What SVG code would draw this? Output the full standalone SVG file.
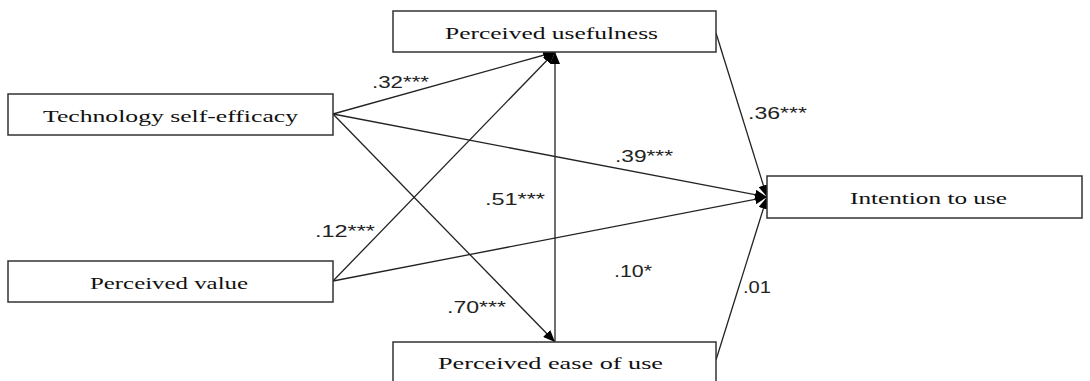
<svg xmlns="http://www.w3.org/2000/svg" width="1090" height="381" viewBox="0 0 1090 381">
<defs>
<marker id="ah" viewBox="0 0 12 10" refX="12" refY="5" markerWidth="12" markerHeight="10" markerUnits="userSpaceOnUse" orient="auto">
<path d="M0,0 L12,5 L0,10 z" fill="#000"/>
</marker>
<style>
.box{fill:#fff;stroke:#333;stroke-width:1.5}
.nt{font-family:"Liberation Serif","DejaVu Serif",serif;font-size:16px;fill:#111}
.lb{font-family:"Liberation Sans","DejaVu Sans",sans-serif;font-size:16px;fill:#222}
.cn{stroke:#222;stroke-width:1.3;fill:none;marker-end:url(#ah)}
</style>
</defs>
<rect width="1090" height="381" fill="#fff"/>
<g id="connectors">
<line class="cn" x1="333" y1="114" x2="555" y2="52"/>
<line class="cn" x1="333" y1="281" x2="555" y2="52"/>
<line class="cn" x1="555" y1="342" x2="555" y2="52"/>
<line class="cn" x1="333" y1="114" x2="555" y2="342"/>
<line class="cn" x1="333" y1="114" x2="767" y2="197"/>
<line class="cn" x1="333" y1="281" x2="767" y2="197"/>
<line class="cn" x1="716" y1="33" x2="767" y2="197"/>
<line class="cn" x1="716" y1="360" x2="767" y2="197"/>
</g>
<g id="labels">
<text class="lb" x="372" y="88" textLength="57" lengthAdjust="spacingAndGlyphs">.32***</text>
<text class="lb" x="615" y="162" textLength="58" lengthAdjust="spacingAndGlyphs">.39***</text>
<text class="lb" x="315" y="237" textLength="60" lengthAdjust="spacingAndGlyphs">.12***</text>
<text class="lb" x="485" y="205" textLength="60" lengthAdjust="spacingAndGlyphs">.51***</text>
<text class="lb" x="447" y="313" textLength="59" lengthAdjust="spacingAndGlyphs">.70***</text>
<text class="lb" x="748" y="119" textLength="59" lengthAdjust="spacingAndGlyphs">.36***</text>
<text class="lb" x="743" y="293" textLength="28" lengthAdjust="spacingAndGlyphs">.01</text>
<text class="lb" x="614" y="277" textLength="38" lengthAdjust="spacingAndGlyphs">.10*</text>
</g>
<g id="pu">
<rect class="box" x="393" y="11" width="323" height="41"/>
<text class="nt" x="445" y="39" textLength="213" lengthAdjust="spacingAndGlyphs">Perceived usefulness</text>
</g>
<g id="tse">
<rect class="box" x="8" y="94" width="325" height="41"/>
<text class="nt" x="43" y="122" textLength="255" lengthAdjust="spacingAndGlyphs">Technology self-efficacy</text>
</g>
<g id="pv">
<rect class="box" x="8" y="261" width="325" height="41"/>
<text class="nt" x="90" y="289" textLength="158" lengthAdjust="spacingAndGlyphs">Perceived value</text>
</g>
<g id="peou">
<rect class="box" x="393" y="342" width="323" height="41"/>
<text class="nt" x="438" y="369" textLength="225" lengthAdjust="spacingAndGlyphs">Perceived ease of use</text>
</g>
<g id="iu">
<rect class="box" x="767" y="176" width="315" height="42"/>
<text class="nt" x="850" y="204" textLength="157" lengthAdjust="spacingAndGlyphs">Intention to use</text>
</g>
</svg>
